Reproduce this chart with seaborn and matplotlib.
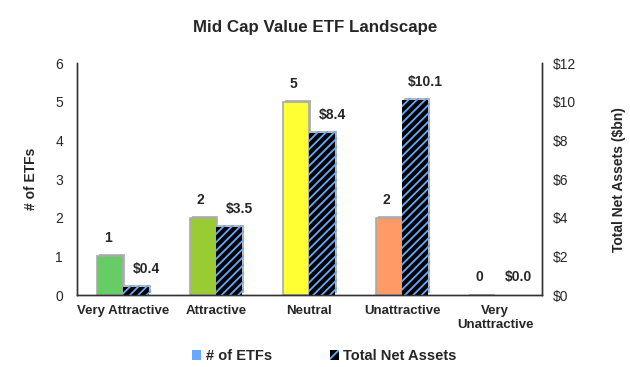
import pandas as pd
import matplotlib
matplotlib.use('Agg')
import matplotlib.pyplot as plt
import matplotlib.patheffects as pe
from matplotlib.patches import Patch
import seaborn as sns
import numpy as np

# Data
ratings = ['Very Attractive', 'Attractive', 'Neutral', 'Unattractive', 'Very\nUnattractive']
num_etfs = [1, 2, 5, 2, 0]
total_assets = [0.4, 3.5, 8.4, 10.1, 0.0]
rating_colors = ['#66cc66', '#99cc33', '#ffff33', '#ff9966', '#bbbbbb']
series = ['# of ETFs', 'Total Net Assets']

sns.set_theme(style='white')
plt.rcParams['font.family'] = ['Liberation Sans', 'DejaVu Sans']
plt.rcParams['hatch.linewidth'] = 1.3

df = pd.DataFrame({
    'rating': ratings * 2,
    'value': num_etfs + total_assets,
    'series': [series[0]] * 5 + [series[1]] * 5,
})

fig = plt.figure(figsize=(6.3, 3.67), dpi=100)
ax = fig.add_axes([0.122, 0.196, 0.738, 0.632])
ax2 = ax.twinx()

shadow = [pe.SimplePatchShadow(offset=(1.5, 1.5), shadow_rgbFace='#888888', alpha=0.6), pe.Normal()]

# draw both series on each axis so seaborn dodges them, then keep only the
# series belonging to that axis
for a, keep in ((ax, 0), (ax2, 1)):
    sns.barplot(data=df, x='rating', y='value', hue='series', hue_order=series,
                order=ratings, width=0.56, ax=a, legend=False, errorbar=None,
                saturation=1)
    bars = sorted(a.patches, key=lambda p: p.get_x())
    for i, p in enumerate(bars):
        if i % 2 != keep:
            p.remove()

count_bars = sorted(ax.patches, key=lambda p: p.get_x())
asset_bars = sorted(ax2.patches, key=lambda p: p.get_x())

# thin grey edge, so the empty bar still shows as a sliver like the original
for p, c in zip(count_bars, rating_colors):
    p.set_facecolor(c)
    p.set_edgecolor('#aaaaaa')
    p.set_linewidth(1.2)
    p.set_path_effects(shadow)
for p in asset_bars:
    p.set_facecolor('black')
    p.set_edgecolor('#66aaff')
    p.set_linewidth(0)
    p.set_hatch('////')
    p.set_path_effects(shadow)

# value labels
for p, v in zip(count_bars, num_etfs):
    ax.annotate(f'{v}', (p.get_x() + p.get_width() / 2, p.get_height()),
                xytext=(-2, 8), textcoords='offset points', ha='center', va='bottom',
                fontsize=10, fontweight='bold')
for p, v in zip(asset_bars, total_assets):
    ax2.annotate(f'${v:.1f}', (p.get_x() + p.get_width() / 2, p.get_height()),
                 xytext=(7, 8), textcoords='offset points', ha='center', va='bottom',
                 fontsize=10, fontweight='bold')

ax.set_ylim(0, 6)
ax2.set_ylim(0, 12)
ax.set_xlim(-0.5, 4.5)
ax.set_yticks(range(0, 7))
ax2.set_yticks(range(0, 13, 2))
ax2.set_yticklabels([f'${t}' for t in range(0, 13, 2)])

ax.set_xlabel('')
ax.set_ylabel('# of ETFs', fontsize=10, fontweight='bold', labelpad=12)
ax2.set_ylabel('Total Net Assets ($bn)', fontsize=10, fontweight='bold', labelpad=26)
ax2.set_xlabel('')

ax.tick_params(axis='y', length=0, labelsize=10, pad=10)
ax2.tick_params(axis='y', length=0, labelsize=10, pad=8)
ax.tick_params(axis='x', which='major', length=0, pad=7)
ax.set_xticks(np.arange(-0.5, 5, 1), minor=True)
ax.tick_params(axis='x', which='minor', length=4, direction='out', color='#333333')
for lbl in ax.get_xticklabels():
    lbl.set_fontweight('bold')
    lbl.set_fontsize(9.5)

for a in (ax, ax2):
    a.spines['top'].set_visible(False)
    for s in ('left', 'right', 'bottom'):
        a.spines[s].set_color('#333333')
        a.spines[s].set_linewidth(1)
ax.grid(False)
ax2.grid(False)

fig.suptitle('Mid Cap Value ETF Landscape', fontsize=12.2, fontweight='bold', y=0.945)

handles = [Patch(facecolor='#66aaff', edgecolor='none', label=series[0]),
           Patch(facecolor='black', edgecolor='#66aaff', hatch='///', linewidth=0, label=series[1])]
fig.legend(handles=handles, loc='lower center', ncol=2, frameon=False,
           bbox_to_anchor=(0.515, -0.025), handlelength=0.6, handleheight=0.6,
           handletextpad=0.3, columnspacing=4, prop={'weight': 'bold', 'size': 10.5})

fig.savefig('out.png', dpi=100)
